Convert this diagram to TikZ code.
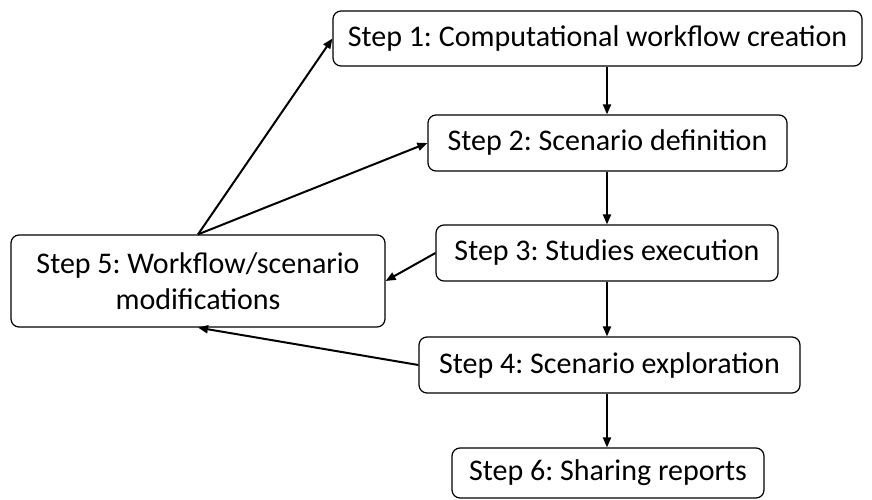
\documentclass[tikz,border=0pt]{standalone}
\usepackage{fontspec}
\setmainfont{Carlito}
\usetikzlibrary{arrows.meta}
\frenchspacing
\begin{document}
\begin{tikzpicture}[x=1pt,y=-1pt,
  stepbox/.style={draw, line width=1.2pt, rounded corners=8pt, inner sep=0pt,
    align=center, font=\fontsize{30}{36}\selectfont},
  arr/.style={line width=2pt, -{Triangle[length=10pt,width=8pt]}}]
  \useasboundingbox (0,0) rectangle (872,500);
  \node[stepbox, minimum width=529pt, minimum height=55pt] (b1) at (597.5,38.5) {Step 1: Computational workflow creation};
  \node[stepbox, minimum width=359pt, minimum height=56pt] (b2) at (607.5,143) {Step 2: Scenario definition};
  \node[stepbox, minimum width=342pt, minimum height=56pt] (b3) at (607,253) {Step 3: Studies execution};
  \node[stepbox, minimum width=381pt, minimum height=56pt] (b4) at (609.5,365) {Step 4: Scenario exploration};
  \node[stepbox, minimum width=312pt, minimum height=50pt] (b6) at (608,473) {Step 6: Sharing reports};
  \node[stepbox, minimum width=374pt, minimum height=92pt] (b5) at (198,281) {Step 5: Workflow/scenario\\modifications};
  % main sequence
  \draw[arr] (b1.south -| b3) -- (b2.north -| b3);
  \draw[arr] (b2.south -| b3) -- (b3.north);
  \draw[arr] (b3.south) -- (b4.north -| b3);
  \draw[arr] (b4.south -| b3) -- (b6.north -| b3);
  % feedback loops
  \draw[arr] (b5.north) -- (b1.west);
  \draw[arr] (b5.north) -- (b2.west);
  \draw[arr] (b3.west) -- (b5.east);
  \draw[arr] (b4.west) -- (b5.south);
\end{tikzpicture}
\end{document}
